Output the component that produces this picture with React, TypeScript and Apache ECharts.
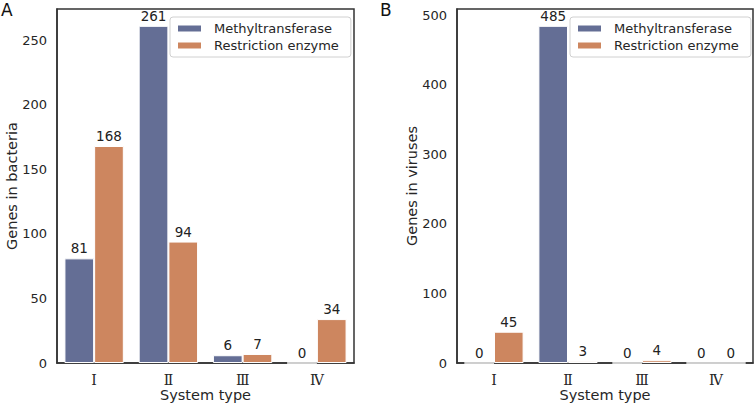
import React, { useEffect, useRef } from "react";
import * as echarts from "echarts";

const categories = ["Ⅰ", "Ⅱ", "Ⅲ", "Ⅳ"];
const bacteriaMethyl = [81, 261, 6, 0];
const bacteriaRestriction = [168, 94, 7, 34];
const virusMethyl = [0, 485, 0, 0];
const virusRestriction = [45, 3, 4, 0];
const seriesNames = ["Methyltransferase", "Restriction enzyme"];
const colors = ["#646E95", "#CD865F"];

const FONT = "DejaVu Sans";

export default function App() {
  const ref = useRef<HTMLDivElement>(null);
  useEffect(() => {
    if (!ref.current) return;
    const chart = echarts.init(ref.current, undefined, { renderer: "svg" });
    const grids = [
      { left: 57, right: 401, top: 9, bottom: 40 },
      { left: 457, right: 2, top: 9, bottom: 40 },
    ];
    const yMax = [274.05, 509.25];
    const yInt = [50, 100];
    const yNames = ["Genes in bacteria", "Genes in viruses"];
    const data = [
      [bacteriaMethyl, bacteriaRestriction],
      [virusMethyl, virusRestriction],
    ];
    const series: any[] = [];
    data.forEach((pair, gi) => {
      pair.forEach((vals, si) => {
        series.push({
          type: "bar",
          name: seriesNames[si],
          xAxisIndex: gi,
          yAxisIndex: gi,
          data: vals,
          barGap: "0%",
          barCategoryGap: "20%",
          itemStyle: { color: colors[si], borderColor: "#ffffff", borderWidth: 1 },
          label: {
            show: true,
            position: "top",
            distance: 3,
            fontFamily: FONT,
            fontSize: 13.5,
            color: "#222222",
          },
        });
      });
    });
    const legendCommon = {
      data: seriesNames,
      orient: "vertical" as const,
      selectedMode: false,
      itemWidth: 25,
      itemHeight: 8,
      itemGap: 4,
      padding: [5, 12, 5, 6],
      borderColor: "#d0d0d0",
      borderWidth: 1,
      borderRadius: 3,
      backgroundColor: "#ffffff",
      textStyle: { fontFamily: FONT, fontSize: 13, color: "#262626", padding: [0, 0, 0, 7] },
      icon: "rect",
    };
    chart.setOption({
      animation: false,
      grid: grids.map((g) => ({
        ...g,
        outerBoundsMode: "none",
        containLabel: false,
        show: true,
        borderColor: "#333333",
        borderWidth: 1.5,
        backgroundColor: "transparent",
      })),
      xAxis: grids.map((_, i) => ({
        type: "category",
        gridIndex: i,
        data: categories,
        name: "System type",
        nameLocation: "middle",
        nameGap: 24,
        nameMoveOverlap: false,
        nameTextStyle: { fontFamily: FONT, fontSize: 14.5, color: "#262626", verticalAlign: "top" },
        axisLine: { show: true, lineStyle: { color: "#333333", width: 1.5 } },
        axisTick: { show: false },
        axisLabel: { fontFamily: "DejaVu Serif", fontSize: 14, color: "#262626", margin: 10, lineHeight: 14 },
      })),
      yAxis: grids.map((_, i) => ({
        type: "value",
        gridIndex: i,
        min: 0,
        max: yMax[i],
        interval: yInt[i],
        name: yNames[i],
        nameLocation: "middle",
        nameGap: 38,
        nameMoveOverlap: false,
        nameTextStyle: { fontFamily: FONT, fontSize: 14.5, color: "#262626" },
        axisLine: { show: true, lineStyle: { color: "#333333", width: 1.5 } },
        axisTick: { show: false },
        splitLine: { show: false },
        axisLabel: {
          fontFamily: FONT,
          fontSize: 13,
          color: "#262626",
          margin: 10,
          showMaxLabel: true,
          formatter: (v: number) => (v % yInt[i] === 0 ? String(v) : ""),
        },
      })),
      legend: [
        { ...legendCommon, left: 170, top: 17 },
        { ...legendCommon, left: 570, top: 17 },
      ],
      graphic: [
        { type: "text", left: 1, top: 1, style: { text: "A", fontFamily: FONT, fontSize: 17, fill: "#111111" } },
        { type: "text", left: 380, top: 1, style: { text: "B", fontFamily: FONT, fontSize: 17, fill: "#111111" } },
      ],
      series,
    });
    return () => chart.dispose();
  }, []);
  return <div ref={ref} style={{ width: 755, height: 403, position: "absolute", left: 0, top: 0 }} />;
}
